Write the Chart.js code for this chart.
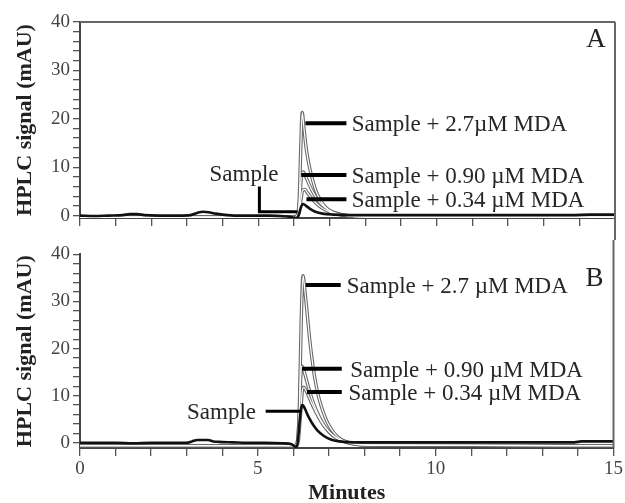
<!DOCTYPE html>
<html>
<head>
<meta charset="utf-8">
<script src="https://cdn.jsdelivr.net/npm/chart.js@4.4.1/dist/chart.umd.min.js"></script>
<style>
  html, body { margin: 0; padding: 0; background: #fff; }
  #wrap { position: relative; width: 625px; height: 503px; }
  #wrap canvas { position: absolute; left: 0; }
  #chartA { top: 0; }
  #chartB { top: 240px; }
</style>
</head>
<body>
<div id="wrap">
  <canvas id="chartA" width="625" height="240"></canvas>
  <canvas id="chartB" width="625" height="263"></canvas>
</div>
<script>
// ---- axis ticks ----
const xTicks = [0, 1, 2, 3, 4, 5, 6, 7, 8, 9, 10, 11, 12, 13, 14, 15];
const xTickLabels = [0, 5, 10, 15];
const yTicks = [0, 2, 4, 6, 8, 10, 12, 14, 16, 18, 20, 22, 24, 26, 28, 30, 32, 34, 36, 38, 40];
const yTickLabels = [0, 10, 20, 30, 40];

// ---- panel A traces (minutes, mAU) ----
const tA_sample = [0, 0.4, 0.8, 1.2, 1.4, 1.6, 1.8, 2.2, 2.8, 3.1, 3.3, 3.45, 3.6, 3.8, 4.0, 4.4, 4.8, 5.3, 5.8, 6.0, 6.08, 6.14, 6.2, 6.26, 6.34, 6.45, 6.6, 6.8, 7.1, 7.6, 8.5, 9.5, 11, 12.5, 13.8, 14.3, 15];
const yA_sample = [0, -0.1, 0, 0.1, 0.3, 0.3, 0.1, 0, 0, 0.1, 0.6, 0.8, 0.7, 0.4, 0.2, 0, 0, 0, -0.2, -0.4, -0.5, 0.3, 1.8, 2.4, 2.0, 1.4, 0.8, 0.4, 0.2, 0.1, 0.1, 0.1, 0.1, 0.1, 0.1, 0.2, 0.2];

const tA_034 = [0, 5.5, 6.08, 6.14, 6.19, 6.24, 6.3, 6.38, 6.48, 6.6, 6.74, 6.9, 7.1, 7.35, 8, 15];
const yA_034 = [-0.3, -0.3, -0.3, 0.5, 3, 5.2, 5.4, 4.7, 3.7, 2.7, 1.8, 1.1, 0.5, 0.1, -0.3, -0.3];

const tA_090 = [0, 5.5, 6.05, 6.12, 6.17, 6.21, 6.26, 6.33, 6.42, 6.52, 6.63, 6.76, 6.92, 7.1, 7.4, 8, 15];
const yA_090 = [-0.3, -0.3, -0.3, 0.5, 4, 8.4, 9.0, 8, 6.5, 5, 3.6, 2.4, 1.4, 0.7, 0.1, -0.3, -0.3];

const tA_27 = [0, 2, 4, 5.5, 6.0, 6.1, 6.15, 6.19, 6.23, 6.28, 6.34, 6.42, 6.52, 6.62, 6.74, 6.88, 7.05, 7.3, 7.7, 9, 12, 15];
const yA_27 = [-0.3, -0.3, -0.3, -0.3, -0.3, 0.2, 4, 14, 21.3, 18, 14, 10.5, 7.4, 5, 3.2, 1.8, 0.8, 0.2, -0.1, -0.3, -0.3, -0.3];

// ---- panel B traces ----
const tB_sample = [0, 0.5, 1, 1.5, 2, 2.5, 3.0, 3.15, 3.3, 3.6, 3.75, 3.9, 4.3, 4.7, 5.2, 5.7, 5.95, 6.05, 6.1, 6.14, 6.18, 6.22, 6.26, 6.32, 6.42, 6.54, 6.68, 6.85, 7.05, 7.3, 7.7, 8.5, 10, 12, 13.9, 14.1, 15];
const yB_sample = [0, 0, 0, -0.1, 0, 0, 0, 0.3, 0.6, 0.6, 0.3, 0.2, 0.1, 0, 0, -0.1, -0.3, -0.8, -0.8, 1.5, 5, 7.5, 8, 7.3, 5.6, 4.0, 2.6, 1.5, 0.7, 0.3, 0.1, 0.1, 0.1, 0.1, 0.1, 0.3, 0.3];

const tB_034 = [0, 5.5, 6.08, 6.14, 6.2, 6.25, 6.29, 6.36, 6.45, 6.55, 6.66, 6.78, 6.9, 7.03, 7.18, 7.35, 7.6, 8.1, 15];
const yB_034 = [-0.6, -0.6, -0.6, 0.5, 6, 11, 11.8, 11, 9.5, 7.8, 6.1, 4.5, 3.2, 2.1, 1.2, 0.5, -0.1, -0.5, -0.6];

const tB_090 = [0, 5.5, 6.05, 6.12, 6.17, 6.21, 6.24, 6.3, 6.38, 6.47, 6.57, 6.68, 6.8, 6.92, 7.05, 7.2, 7.4, 7.7, 8.2, 15];
const yB_090 = [-0.6, -0.6, -0.6, 0.5, 7, 14.5, 16.3, 15.2, 13, 10.6, 8.3, 6.3, 4.5, 3.1, 2.0, 1.1, 0.4, -0.2, -0.5, -0.6];

const tB_27 = [0, 5.5, 6.05, 6.12, 6.17, 6.22, 6.27, 6.32, 6.38, 6.45, 6.52, 6.6, 6.7, 6.8, 6.9, 7.0, 7.12, 7.27, 7.45, 7.7, 8.2, 15];
const yB_27 = [-0.6, -0.6, -0.6, 0.5, 8, 26, 35.5, 32.5, 28, 22.5, 18, 13.8, 10, 7.4, 5.3, 3.7, 2.3, 1.1, 0.3, -0.2, -0.5, -0.6];

// ---- callout labels (data units) ----
const notesA_text = ['Sample + 2.7\u00b5M MDA', 'Sample + 0.90 \u00b5M MDA', 'Sample + 0.34 \u00b5M MDA'];
const notesA_y = [19.1, 8.4, 3.4];
const notesA_x0 = [6.32, 6.2, 6.35];
const notesA_x1 = [7.47, 7.47, 7.47];
const notesA_tx = [7.62, 7.62, 7.62];
const sampleA_path = [[5.03, 6.0], [5.03, 0.8], [6.1, 0.8]];
const sampleA_text = [4.6, 8.9];

const notesB_text = ['Sample + 2.7 \u00b5M MDA', 'Sample + 0.90 \u00b5M MDA', 'Sample + 0.34 \u00b5M MDA'];
const notesB_y = [33.5, 15.7, 10.8];
const notesB_x0 = [6.35, 6.24, 6.38];
const notesB_x1 = [7.33, 7.36, 7.36];
const notesB_tx = [7.5, 7.6, 7.55];
const sampleB_path = [[5.22, 6.7], [6.2, 6.7]];
const sampleB_text = [4.95, 6.7];

const serif = "'Liberation Serif', 'Times New Roman', serif";

function pts(t, y) {
  return t.map((v, i) => ({ x: v, y: y[i] }));
}

function traces(sets) {
  // sets: [sample, 0.34, 0.90, 2.7]; spiked runs are drawn hollow (grey edge + white core)
  const ds = [{
    data: pts(sets[0][0], sets[0][1]), borderColor: '#111', borderWidth: 2.6, order: 0
  }];
  sets.slice(1).forEach(s => {
    ds.push({ data: pts(s[0], s[1]), borderColor: '#fff', borderWidth: 1.2, order: 1 });
    ds.push({ data: pts(s[0], s[1]), borderColor: '#6a6a6a', borderWidth: 3.4, order: 2 });
  });
  return ds;
}

const notesPlugin = {
  id: 'notes',
  afterDatasetsDraw(chart, args, opts) {
    const { ctx, chartArea } = chart;
    const xs = chart.scales.x, ys = chart.scales.y;
    ctx.save();
    // frame: top (panel A only) and right side
    ctx.strokeStyle = '#666';
    ctx.lineWidth = 2;
    ctx.beginPath();
    if (opts.top) {
      ctx.moveTo(chartArea.left, chartArea.top);
      ctx.lineTo(chartArea.right, chartArea.top);
      ctx.moveTo(chartArea.right, chartArea.top);
      ctx.lineTo(chartArea.right, chart.height);
    } else {
      ctx.moveTo(chartArea.right, 0);
      ctx.lineTo(chartArea.right, chartArea.bottom);
    }
    ctx.stroke();

    ctx.strokeStyle = '#000';
    ctx.lineWidth = 4;
    ctx.lineCap = 'butt';
    ctx.font = '23px ' + serif;
    ctx.fillStyle = '#262626';
    ctx.textBaseline = 'middle';
    ctx.textAlign = 'left';
    opts.text.forEach((txt, i) => {
      const py = ys.getPixelForValue(opts.y[i]);
      ctx.beginPath();
      ctx.moveTo(xs.getPixelForValue(opts.x0[i]), py);
      ctx.lineTo(xs.getPixelForValue(opts.x1[i]), py);
      ctx.stroke();
      ctx.fillText(txt, xs.getPixelForValue(opts.tx[i]), py + 2);
    });

    ctx.lineWidth = 3;
    ctx.beginPath();
    opts.samplePath.forEach((p, i) => {
      const px = xs.getPixelForValue(p[0]), py = ys.getPixelForValue(p[1]);
      if (i === 0) ctx.moveTo(px, py); else ctx.lineTo(px, py);
    });
    ctx.stroke();
    ctx.textAlign = opts.sampleAlign;
    ctx.fillText('Sample', xs.getPixelForValue(opts.sampleText[0]), ys.getPixelForValue(opts.sampleText[1]) + 2);

    ctx.font = '27px ' + serif;
    ctx.fillStyle = '#222';
    ctx.textAlign = 'center';
    ctx.fillText(opts.letter, chartArea.right - 19, chartArea.top + opts.letterDy);
    ctx.restore();
  }
};

function makeChart(id, sets, cfg) {
  return new Chart(document.getElementById(id), {
    type: 'line',
    data: { datasets: traces(sets) },
    options: {
      responsive: false,
      animation: false,
      events: [],
      layout: { padding: { left: 0, right: 10, top: cfg.padTop, bottom: 0 } },
      elements: {
        point: { radius: 0 },
        line: { cubicInterpolationMode: 'monotone', borderJoinStyle: 'round', borderCapStyle: 'round' }
      },
      plugins: {
        legend: { display: false },
        tooltip: { enabled: false },
        notes: cfg.notes
      },
      scales: {
        x: {
          type: 'linear',
          min: 0,
          max: 15,
          afterBuildTicks: s => { s.ticks = xTicks.map(v => ({ value: v })); },
          afterFit: s => { s.height = cfg.xHeight; },
          ticks: {
            autoSkip: false,
            maxRotation: 0,
            padding: 2,
            color: '#444',
            font: { family: serif, size: 19 },
            callback: v => (cfg.xLabels && xTickLabels.includes(v)) ? String(v) : ''
          },
          grid: { drawOnChartArea: false, drawTicks: true, tickLength: 8, color: '#555', lineWidth: 1.3 },
          border: { display: true, color: '#444', width: 2 },
          title: {
            display: cfg.xLabels,
            text: 'Minutes',
            color: '#222',
            padding: { top: 0, bottom: 0 },
            font: { family: serif, size: 22, weight: 'bold', lineHeight: 0.9 }
          }
        },
        y: {
          min: cfg.yMin,
          max: 40,
          afterBuildTicks: s => { s.ticks = yTicks.map(v => ({ value: v })); },
          afterFit: s => { s.width = 80; },
          ticks: {
            autoSkip: false,
            padding: 3,
            color: '#444',
            font: { family: serif, size: 19 },
            callback: v => yTickLabels.includes(v) ? String(v) : ''
          },
          grid: { drawOnChartArea: false, drawTicks: true, tickLength: 7, color: '#555', lineWidth: 1.3 },
          border: { display: true, color: '#444', width: 2 },
          title: {
            display: true,
            text: 'HPLC signal (mAU)',
            color: '#222',
            padding: { top: 12, bottom: 0 },
            font: { family: serif, size: 22, weight: 'bold', lineHeight: 1.2 }
          }
        }
      }
    },
    plugins: [notesPlugin]
  });
}

makeChart('chartA',
  [[tA_sample, yA_sample], [tA_034, yA_034], [tA_090, yA_090], [tA_27, yA_27]],
  {
    padTop: 22, xHeight: 22, yMin: -0.5, xLabels: false,
    notes: {
      top: true, letter: 'A', letterDy: 18,
      text: notesA_text, y: notesA_y, x0: notesA_x0, x1: notesA_x1, tx: notesA_tx,
      samplePath: sampleA_path, sampleText: sampleA_text, sampleAlign: 'center'
    }
  });

makeChart('chartB',
  [[tB_sample, yB_sample], [tB_034, yB_034], [tB_090, yB_090], [tB_27, yB_27]],
  {
    padTop: 8, xHeight: 55, yMin: -1.1, xLabels: true,
    notes: {
      top: false, letter: 'B', letterDy: 25,
      text: notesB_text, y: notesB_y, x0: notesB_x0, x1: notesB_x1, tx: notesB_tx,
      samplePath: sampleB_path, sampleText: sampleB_text, sampleAlign: 'right'
    }
  });
</script>
</body>
</html>
